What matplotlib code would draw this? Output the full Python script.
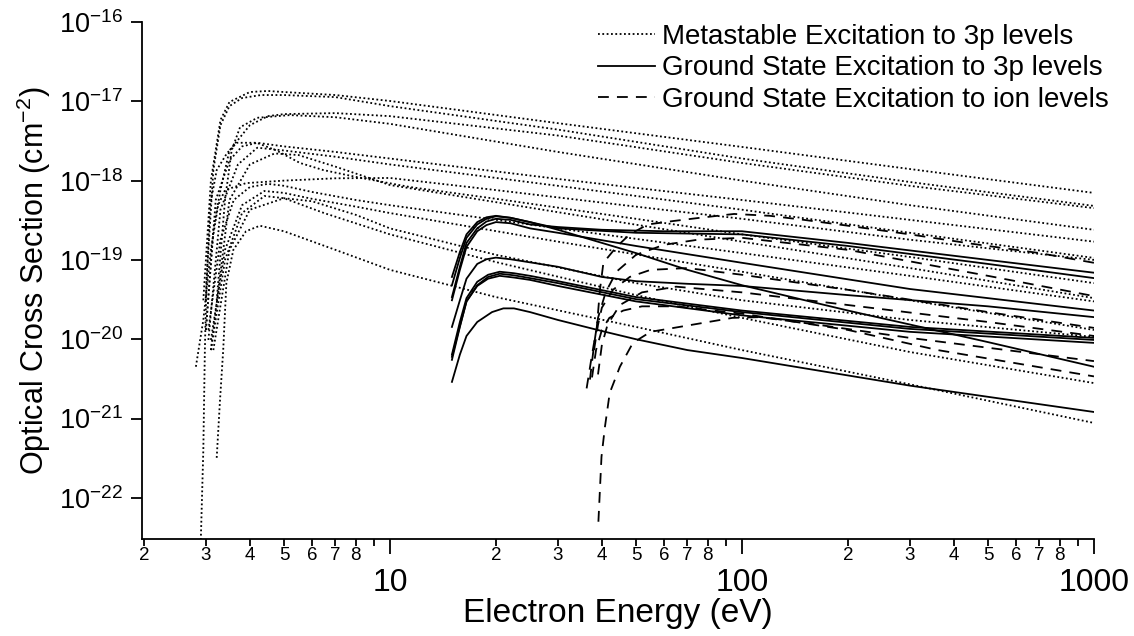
import numpy as np
import matplotlib
matplotlib.use("Agg")
import matplotlib.pyplot as plt
from matplotlib.ticker import FixedLocator, FuncFormatter, LogLocator, NullLocator, LogFormatterSciNotation
from matplotlib.lines import Line2D

plt.rcParams['font.family'] = ['Liberation Sans', 'DejaVu Sans']
plt.rcParams['mathtext.fontset'] = 'custom'
plt.rcParams['mathtext.rm'] = 'Liberation Sans'
plt.rcParams['mathtext.it'] = 'Liberation Sans:italic'
plt.rcParams['mathtext.bf'] = 'Liberation Sans:bold'

# metastable excitation into the 3p levels (energy in eV, cross section in cm^2)
meta_energy = [
    [2.95, 3.1, 3.3, 3.5, 4, 4.5, 5, 7, 10, 30, 100, 300, 1000],
    [2.9, 2.95, 2.98, 3.01, 3.05, 3.15, 3.3, 3.5, 3.8, 4.3, 5, 7, 10, 30, 100, 300, 1000],
    [3.0, 3.15, 3.3, 3.5, 4, 4.5, 5, 7, 10, 30, 100, 300, 1000],
    [3.22, 3.4, 3.55, 3.75, 4.2, 5.2, 7, 10, 30, 100, 300, 1000],
    [3.0, 3.08, 3.22, 3.44, 3.67, 4.18, 4.76, 5.55, 6.46, 8.04, 11.4, 20, 50, 100, 300, 1000],
    [3.0, 3.2, 3.5, 3.8, 4.2, 5, 7, 10, 30, 100, 300, 1000],
    [3.05, 3.3, 3.7, 4.2, 5, 7, 10, 30, 100, 300, 1000],
    [3.1, 3.5, 4, 4.7, 5.5, 7, 10, 30, 100, 300, 1000],
    [2.81, 2.95, 3.1, 3.25, 3.4, 3.9, 5, 7, 10, 20, 50, 100, 300, 1000],
    [3.05, 3.3, 3.6, 4, 4.5, 5, 6, 8, 10, 30, 100, 300, 1000],
    [3.1, 3.4, 3.8, 4.4, 5, 6, 8, 10, 30, 100, 300, 1000],
    [3.15, 3.5, 4, 5, 6, 8, 10, 20, 50, 100, 300, 1000],
    [3.1, 3.4, 3.8, 4.4, 5, 6.5, 10, 13, 20, 50, 100, 300, 1000],
    [3.22, 3.29, 3.36, 3.43, 3.59, 3.9, 4.27, 5, 7, 10, 20, 50, 100, 300, 1000],
]
meta_sigma = [
    [3.1e-20, 1.0e-18, 5.8e-18, 9.8e-18, 1.31e-17, 1.35e-17, 1.31e-17, 1.20e-17, 1.01e-17, 5.3e-18, 2.66e-18, 1.40e-18, 7.0e-19],
    [2.6e-23, 4.0e-22, 7.3e-21, 5.1e-20, 1.34e-19, 1.36e-18, 5.0e-18, 8.7e-18, 1.10e-17, 1.20e-17, 1.20e-17, 1.13e-17, 8.7e-18, 4.4e-18, 1.9e-18, 9.6e-19, 4.8e-19],
    [1.31e-20, 2.4e-19, 7.6e-19, 2.4e-18, 5.0e-18, 6.5e-18, 6.9e-18, 7.1e-18, 6.5e-18, 3.7e-18, 1.67e-18, 8.6e-19, 4.5e-19],
    [3.1e-20, 5.7e-19, 2.4e-18, 4.7e-18, 6.2e-18, 6.7e-18, 6.3e-18, 5.2e-18, 2.3e-18, 1.0e-18, 4.9e-19, 2.4e-19],
    [3.1e-20, 4.7e-19, 1.36e-18, 2.2e-18, 3.0e-18, 3.0e-18, 2.4e-18, 1.67e-18, 1.36e-18, 1.11e-18, 8.3e-19, 5.9e-19, 3.3e-19, 2.1e-19, 1.09e-19, 5.1e-20],
    [1.31e-20, 5.7e-19, 1.8e-18, 2.7e-18, 3.0e-18, 2.7e-18, 2.3e-18, 1.9e-18, 1.05e-18, 5.7e-19, 3.2e-19, 1.7e-19],
    [9.8e-21, 4.3e-19, 1.6e-18, 2.6e-18, 2.4e-18, 2.0e-18, 1.6e-18, 8.6e-19, 4.3e-19, 2.2e-19, 1.06e-19],
    [7.3e-21, 5.7e-19, 1.6e-18, 2.2e-18, 2.1e-18, 1.5e-18, 8.8e-19, 4.0e-19, 1.7e-19, 7.9e-20, 3.3e-20],
    [4.5e-21, 1.75e-20, 1.34e-19, 4.9e-19, 7.6e-19, 9.3e-19, 1.0e-18, 1.07e-18, 1.08e-18, 7.6e-19, 4.7e-19, 3.3e-19, 1.8e-19, 1.0e-19],
    [1.31e-20, 1.8e-19, 5.7e-19, 8.3e-19, 9.1e-19, 8.6e-19, 7.2e-19, 5.7e-19, 4.9e-19, 2.5e-19, 1.22e-19, 6.3e-20, 3.0e-20],
    [9.8e-21, 1.34e-19, 4.9e-19, 7.4e-19, 7.0e-19, 5.9e-19, 4.7e-19, 3.9e-19, 1.7e-19, 7.1e-20, 3.1e-20, 1.31e-20],
    [7.3e-21, 1.34e-19, 4.3e-19, 6.0e-19, 5.5e-19, 3.7e-19, 2.5e-19, 1.16e-19, 5.1e-20, 3.1e-20, 1.75e-20, 1.07e-20],
    [7.3e-21, 1.0e-19, 3.9e-19, 6.4e-19, 6.0e-19, 3.9e-19, 2.1e-19, 1.55e-19, 9.4e-20, 3.6e-20, 1.86e-20, 6.9e-21, 2.8e-21],
    [3.2e-22, 1.7e-21, 7.3e-21, 5.1e-20, 1.34e-19, 2.3e-19, 2.7e-19, 2.3e-19, 1.34e-19, 7.5e-20, 3.4e-20, 1.43e-20, 7.3e-21, 2.7e-21, 8.8e-22],
]

# ground state excitation into the 3p levels
ground_energy = [
    [15.0, 15.8, 16.5, 17.7, 18.8, 20, 22, 25, 30, 40, 60, 100, 200, 500, 1000],
    [15.0, 15.8, 16.5, 17.7, 18.8, 20, 22, 30, 50, 100, 200, 500, 1000],
    [15.0, 15.8, 16.5, 17.7, 18.8, 20, 22, 25, 30, 40, 50, 70, 100, 200, 500, 1000],
    [15.0, 15.8, 16.5, 17.7, 18.8, 20, 22, 25, 30, 50, 100, 300, 1000],
    [15.0, 15.8, 16.5, 17.7, 18.8, 20, 22, 30, 40, 50, 70, 100, 200, 500, 1000],
    [15.0, 15.8, 16.5, 17.7, 19, 20.5, 22.5, 25, 30, 50, 100, 300, 1000],
    [15.0, 15.8, 16.5, 17.7, 19, 20.5, 22.5, 25, 30, 50, 100, 300, 1000],
    [15.0, 15.8, 16.5, 17.7, 19, 20.5, 22.5, 25, 30, 50, 100, 300, 1000],
    [15.0, 15.8, 16.5, 17.7, 19.5, 21, 22.5, 25, 30, 40, 50, 70, 100, 300, 1000],
]
ground_sigma = [
    [3.4e-20, 8.2e-20, 1.64e-19, 2.5e-19, 3.05e-19, 3.3e-19, 3.2e-19, 2.8e-19, 2.6e-19, 2.4e-19, 2.3e-19, 2.3e-19, 1.64e-19, 1.0e-19, 6.9e-20],
    [6.1e-20, 1.26e-19, 2.1e-19, 3.0e-19, 3.45e-19, 3.6e-19, 3.4e-19, 2.5e-19, 2.2e-19, 2.1e-19, 1.5e-19, 8.9e-20, 5.9e-20],
    [4.8e-20, 1.06e-19, 1.9e-19, 2.8e-19, 3.3e-19, 3.55e-19, 3.4e-19, 3.0e-19, 2.4e-19, 1.64e-19, 1.22e-19, 7.5e-20, 4.8e-20, 2.3e-20, 9.2e-21, 4.5e-21],
    [3.1e-20, 7.5e-20, 1.46e-19, 2.3e-19, 2.75e-19, 3.0e-19, 2.9e-19, 2.5e-19, 2.2e-19, 1.5e-19, 9.2e-20, 4.3e-20, 2.3e-20],
    [1.43e-20, 3.1e-20, 5.8e-20, 8.9e-20, 1.02e-19, 1.07e-19, 1.02e-19, 8.2e-20, 6.1e-20, 5.4e-20, 5.0e-20, 4.7e-20, 3.6e-20, 2.6e-20, 1.9e-20],
    [6.4e-21, 1.65e-20, 3.3e-20, 5.3e-20, 6.5e-20, 7.1e-20, 6.8e-20, 6.3e-20, 5.4e-20, 3.4e-20, 2.3e-20, 1.43e-20, 1.04e-20],
    [5.5e-21, 1.43e-20, 3.0e-20, 4.8e-20, 6.1e-20, 6.7e-20, 6.4e-20, 5.9e-20, 5.1e-20, 3.2e-20, 2.2e-20, 1.35e-20, 9.8e-21],
    [6.0e-21, 1.47e-20, 3.0e-20, 4.7e-20, 5.8e-20, 6.3e-20, 6.0e-20, 5.6e-20, 4.7e-20, 3.0e-20, 2.0e-20, 1.24e-20, 9.0e-21],
    [2.9e-21, 6.4e-21, 1.1e-20, 1.65e-20, 2.2e-20, 2.45e-20, 2.45e-20, 2.2e-20, 1.75e-20, 1.27e-20, 1.0e-20, 7.3e-21, 5.8e-21, 2.6e-21, 1.21e-21],
]

# ground state excitation into ion levels
ion_energy = [
    [36.2, 37.5, 38.7, 39.5, 40.4, 44, 48, 54, 64, 76, 95, 120, 150, 200, 300, 450, 700, 1000],
    [37, 38, 39, 41, 44, 50, 60, 75, 100, 200, 500, 1000],
    [38, 39, 40, 43, 48, 55, 70, 100, 200, 500, 1000],
    [39, 40, 41.5, 45, 52, 65, 100, 200, 500, 1000],
    [39.1, 39.9, 40.8, 42.1, 45, 49, 55, 64, 72, 94, 112, 165, 300, 1000],
    [37.5, 38.5, 40, 42, 46, 52, 65, 100, 200, 360, 1000],
]
ion_sigma = [
    [2.4e-21, 6.4e-21, 1.43e-20, 4.2e-20, 9.2e-20, 1.46e-19, 2.1e-19, 2.8e-19, 3.1e-19, 3.4e-19, 3.8e-19, 3.6e-19, 3.2e-19, 2.7e-19, 2.1e-19, 1.6e-19, 1.22e-19, 9.2e-20],
    [3.1e-21, 8.5e-21, 1.86e-20, 3.9e-20, 7.1e-20, 1.16e-19, 1.55e-19, 1.8e-19, 1.9e-19, 1.34e-19, 6.3e-20, 3.5e-20],
    [7.3e-21, 1.52e-20, 2.5e-20, 4.2e-20, 6.1e-20, 7.5e-20, 7.9e-20, 6.5e-20, 4.2e-20, 2.2e-20, 1.39e-20],
    [3.6e-21, 8.5e-21, 1.52e-20, 2.7e-20, 3.9e-20, 4.6e-20, 3.9e-20, 2.7e-20, 1.65e-20, 1.1e-20],
    [5.0e-23, 3.3e-22, 7.8e-22, 2.1e-21, 4.5e-21, 9.0e-21, 1.24e-20, 1.39e-20, 1.52e-20, 1.86e-20, 1.9e-20, 1.52e-20, 1.04e-20, 5.3e-21],
    [3.3e-21, 7.3e-21, 1.31e-20, 1.86e-20, 2.3e-20, 2.6e-20, 2.6e-20, 2.1e-20, 1.31e-20, 7.3e-21, 3.4e-21],
]

legend_labels = ['Metastable Excitation to 3p levels',
                 'Ground State Excitation to 3p levels',
                 'Ground State Excitation to ion levels']

fig = plt.figure(figsize=(11.34, 6.36), dpi=100)
ax = fig.add_axes([0.1252, 0.152, 0.8395, 0.8134])

dot_style = dict(color='black', lw=1.3, linestyle=(0, (1, 1.4)))
solid_style = dict(color='black', lw=1.3, linestyle='-')
dash_style = dict(color='black', lw=1.3, linestyle=(0, (6, 4.5)))

for e, s in zip(meta_energy, meta_sigma):
    ax.plot(e, s, **dot_style)
for e, s in zip(ground_energy, ground_sigma):
    ax.plot(e, s, **solid_style)
for e, s in zip(ion_energy, ion_sigma):
    ax.plot(e, s, **dash_style)

ax.set_xscale('log')
ax.set_yscale('log')
ax.set_xlim(1.975, 1000)
ax.set_ylim(3.0e-23, 1e-16)

for side in ['top', 'right']:
    ax.spines[side].set_visible(False)
for side in ['left', 'bottom']:
    ax.spines[side].set_linewidth(1.3)

# x axis: decade labels sit below the 2..8 minor labels
ax.xaxis.set_major_locator(FixedLocator([10, 100, 1000]))
ax.xaxis.set_major_formatter(FuncFormatter(lambda v, p: '%d' % round(v)))
ax.xaxis.set_minor_locator(LogLocator(base=10, subs=range(2, 10), numticks=20))


def minor_label(v, pos):
    lead = int(round(v / 10 ** int(np.floor(np.log10(v) + 1e-9))))
    return str(lead) if 2 <= lead <= 8 else ''


ax.xaxis.set_minor_formatter(FuncFormatter(minor_label))
ax.tick_params(axis='x', which='major', length=11, width=1.3, pad=10, labelsize=23)
ax.tick_params(axis='x', which='minor', length=5, width=1.3, pad=0.5, labelsize=13.5)

ax.yaxis.set_major_locator(FixedLocator([1e-22, 1e-21, 1e-20, 1e-19, 1e-18, 1e-17, 1e-16]))
ax.yaxis.set_major_formatter(LogFormatterSciNotation())
ax.yaxis.set_minor_locator(NullLocator())
ax.tick_params(axis='y', which='major', length=8, width=1.3, pad=6, labelsize=19.5)

ax.set_xlabel('Electron Energy (eV)', fontsize=24, labelpad=0)
ax.set_ylabel('Optical Cross Section (cm$^{-2}$)', fontsize=22, labelpad=4)

handles = [Line2D([], [], **dot_style), Line2D([], [], **solid_style), Line2D([], [], **dash_style)]
ax.legend(handles, legend_labels, loc='upper left', bbox_to_anchor=(598 / 1134, 1 - 24 / 636),
          bbox_transform=fig.transFigure, frameon=False, fontsize=20, handlelength=2.05,
          handletextpad=0.25, labelspacing=0.19, borderpad=0, borderaxespad=0)

fig.savefig('out.png', dpi=100)
